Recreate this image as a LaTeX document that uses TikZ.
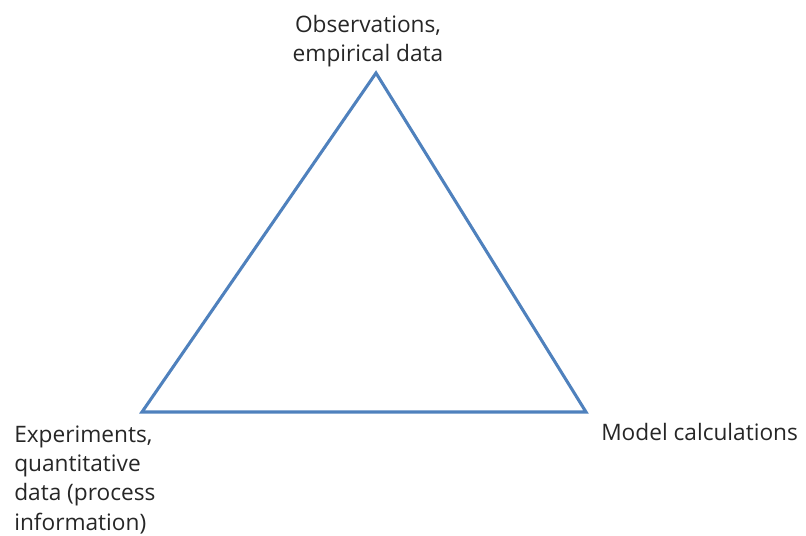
\documentclass[tikz,border=0pt]{standalone}
\usepackage{fontspec}
\setmainfont{Open Sans}
\usetikzlibrary{calc}

\definecolor{edgeblue}{RGB}{79,129,189}

\begin{document}
\begin{tikzpicture}[x=0.75pt,y=-0.75pt,
    corner/.style={font=\fontsize{17}{22}\selectfont, inner sep=0pt, text=black!85}]
  \useasboundingbox (0,0) rectangle (806,535);
  \coordinate (obs) at (376,73);
  \coordinate (exp) at (142,412);
  \coordinate (mod) at (586,412);
  \draw[edgeblue, line width=2.3pt, line join=miter] (obs) -- (mod) -- (exp) -- cycle;
  % multi-line nodes: base is the last line
  \node[corner, align=center, anchor=base] (obstext) at (368,62) {Observations,\\empirical data};
  \node[corner, align=left, anchor=base west] (exptext) at (14,530) {Experiments,\\quantitative\\data (process\\information)};
  \node[corner, anchor=base west] (modtext) at (601,440) {Model calculations};
\end{tikzpicture}
\end{document}
